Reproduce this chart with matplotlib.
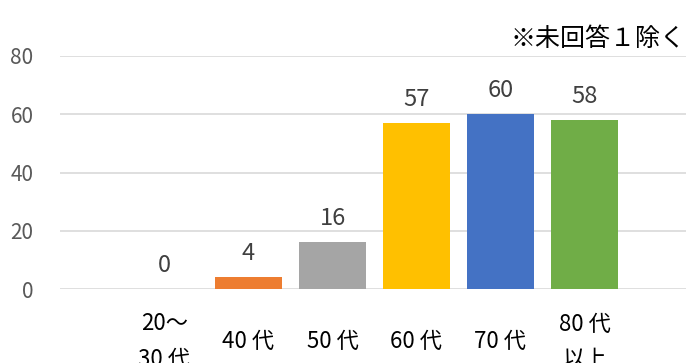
import matplotlib
matplotlib.use("Agg")
import matplotlib.pyplot as plt

plt.rcParams['font.family'] = ['Noto Sans CJK JP', 'DejaVu Sans']

categories = ["20～\n30 代", "40 代", "50 代", "60 代", "70 代", "80 代\n以上"]
values = [0, 4, 16, 57, 60, 58]
colors = ["#4472C4", "#ED7D31", "#A5A5A5", "#FFC000", "#4472C4", "#70AD47"]
yticks = [0, 20, 40, 60, 80]
note = "※未回答１除く"

fig = plt.figure(figsize=(6.86, 3.63), dpi=100)
ax = fig.add_axes([60 / 686, 1 - 289 / 363, 1 - 60 / 686, (289 - 56) / 363])

x = list(range(len(categories)))
bars = ax.bar(x, values, width=0.786, color=colors, zorder=2)

for b, v in zip(bars, values):
    ax.annotate(str(v), (b.get_x() + b.get_width() / 2, v), xytext=(0, 17),
                textcoords="offset points", ha="center", va="center",
                fontsize=17, color="#404040")

ax.set_ylim(0, 80)
ax.set_yticks(yticks)
ax.set_xlim((60 - 164.5) / 84, (686 - 164.5) / 84)
ax.grid(axis="y", color="#d9d9d9", linewidth=1.2, zorder=0)
ax.set_axisbelow(True)
for s in ax.spines.values():
    s.set_visible(False)

ax.set_xticks(x)
ax.set_xticklabels(categories, fontsize=16, color="#000000", linespacing=1.7)
for lbl in ax.get_xticklabels():
    lbl.set_va("center")
ax.tick_params(axis="x", length=0, pad=38)
ax.tick_params(axis="y", length=0, pad=19, labelsize=15, labelcolor="#595959")

fig.text(685 / 686, 1 - 39 / 363, note, ha="right", va="center", fontsize=18, color="#000000")

fig.savefig("out.png", dpi=100)
